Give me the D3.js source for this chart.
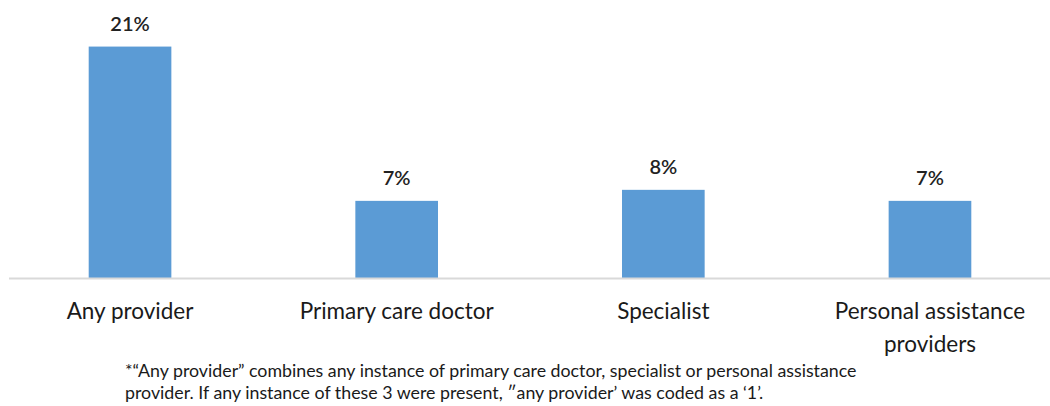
<!DOCTYPE html>
<html>
<head>
<meta charset="utf-8">
<script src="https://cdn.jsdelivr.net/npm/d3@7"></script>
<style>
  html, body { margin: 0; padding: 0; background: #fff; }
  svg { display: block; font-family: Lato, "Open Sans", sans-serif; }
</style>
</head>
<body>
<svg id="chart" width="1050" height="406"></svg>
<script>
// Share of respondents reporting each provider type
const categories = ["Any provider", "Primary care doctor", "Specialist", "Personal assistance providers"];
const categoryLines = [["Any provider"], ["Primary care doctor"], ["Specialist"], ["Personal assistance", "providers"]];
const values = [21, 7, 8, 7];
const valueLabels = ["21%", "7%", "8%", "7%"];
const footnoteLines = [
  "*\u201CAny provider\u201D combines any instance of primary care doctor, specialist or personal assistance",
  "provider. If any instance of these 3 were present, \u2033any provider\u2019 was coded as a \u20181\u2019."
];

const svg = d3.select("#chart");
const baseY = 278;

const x = d3.scaleBand()
  .domain(categories)
  .range([-3.3, 1063.3])
  .paddingInner(0.69)
  .paddingOuter(0.345);

const y = d3.scaleLinear()
  .domain([0, 25])
  .range([baseY, baseY - 25 * 11.02]);

const data = categories.map((c, i) => ({ c, v: values[i], label: valueLabels[i], lines: categoryLines[i] }));

// bars
svg.append("g").selectAll("rect")
  .data(data)
  .join("rect")
  .attr("x", d => x(d.c))
  .attr("y", d => y(d.v))
  .attr("width", x.bandwidth())
  .attr("height", d => y(0) - y(d.v))
  .attr("fill", "#5b9bd5");

// baseline axis
svg.append("line")
  .attr("x1", 9).attr("x2", 1050)
  .attr("y1", baseY + 0.5).attr("y2", baseY + 0.5)
  .attr("stroke", "#d9d9d9")
  .attr("stroke-width", 2);

// value labels
svg.append("g").selectAll("text")
  .data(data)
  .join("text")
  .attr("x", d => x(d.c) + x.bandwidth() / 2)
  .attr("y", d => y(d.v) - 16)
  .attr("text-anchor", "middle")
  .attr("font-size", 20)
  .attr("font-weight", 600)
  .attr("fill", "#222")
  .text(d => d.label);

// category labels
const cat = svg.append("g").selectAll("text")
  .data(data)
  .join("text")
  .attr("x", d => x(d.c) + x.bandwidth() / 2)
  .attr("y", 319)
  .attr("text-anchor", "middle")
  .attr("font-size", 22.5)
  .attr("fill", "#1a1a1a");
cat.selectAll("tspan")
  .data(d => d.lines.map(t => ({ t, cx: x(d.c) + x.bandwidth() / 2 })))
  .join("tspan")
  .attr("x", d => d.cx)
  .attr("dy", (d, i) => i === 0 ? 0 : 33)
  .text(d => d.t);

// footnote
svg.append("g").selectAll("text")
  .data(footnoteLines)
  .join("text")
  .attr("x", 125)
  .attr("y", (d, i) => 377 + i * 22)
  .attr("font-size", 17.8)
  .attr("fill", "#1a1a1a")
  .text(d => d);
</script>
</body>
</html>
